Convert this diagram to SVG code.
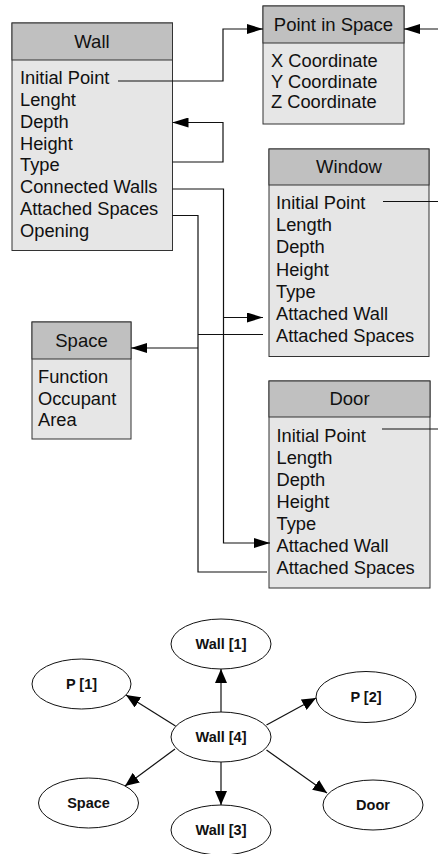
<svg xmlns="http://www.w3.org/2000/svg" width="438" height="854" viewBox="0 0 438 854">
<defs>
<style>
.hdr{fill:#c0c0c0;stroke:#333;stroke-width:1}
.body{fill:#e6e6e6;stroke:#333;stroke-width:1}
.t{font-family:"Liberation Sans",Arial,sans-serif;font-size:18.3px;fill:#111}
.th{font-family:"Liberation Sans",Arial,sans-serif;font-size:18.5px;fill:#111;text-anchor:middle}
.ln{fill:none;stroke:#111;stroke-width:1.2}
.ell{fill:#fff;stroke:#111;stroke-width:1}
.et{font-family:"Liberation Sans",Arial,sans-serif;font-size:14.5px;font-weight:bold;fill:#111;text-anchor:middle}
</style>
<marker id="a" viewBox="0 0 16 10" refX="16" refY="5" markerWidth="16" markerHeight="10" markerUnits="userSpaceOnUse" orient="auto">
<path d="M0,0 L16,5 L0,10 z" fill="#000"/>
</marker>
<marker id="b" viewBox="0 0 14 12" refX="14" refY="6" markerWidth="14" markerHeight="12" markerUnits="userSpaceOnUse" orient="auto">
<path d="M0,0 L14,6 L0,12 z" fill="#000"/>
</marker>
</defs>
<rect width="438" height="854" fill="#fff"/>

<g id="wall">
<rect class="body" x="12" y="23" width="160.5" height="227.5"/>
<rect class="hdr" x="12" y="23" width="160.5" height="37"/>
<text class="th" x="92" y="47.5">Wall</text>
<text class="t" x="20" y="84">Initial Point</text>
<text class="t" x="20" y="106">Lenght</text>
<text class="t" x="20" y="128">Depth</text>
<text class="t" x="20" y="149.5">Height</text>
<text class="t" x="20" y="171">Type</text>
<text class="t" x="20" y="193">Connected Walls</text>
<text class="t" x="20" y="215">Attached Spaces</text>
<text class="t" x="20" y="237">Opening</text>
</g>

<g id="point">
<rect class="body" x="263" y="6" width="141" height="118"/>
<rect class="hdr" x="263" y="6" width="141" height="37"/>
<text class="th" x="333.5" y="30.5">Point in Space</text>
<text class="t" x="271" y="67">X Coordinate</text>
<text class="t" x="271" y="87.5">Y Coordinate</text>
<text class="t" x="271" y="108">Z Coordinate</text>
</g>

<g id="window">
<rect class="body" x="269" y="149" width="160" height="207.5"/>
<rect class="hdr" x="269" y="149" width="160" height="36"/>
<text class="th" x="349" y="172.5">Window</text>
<text class="t" x="276" y="209">Initial Point</text>
<text class="t" x="276" y="231">Length</text>
<text class="t" x="276" y="253">Depth</text>
<text class="t" x="276" y="275.5">Height</text>
<text class="t" x="276" y="297.5">Type</text>
<text class="t" x="276" y="320">Attached Wall</text>
<text class="t" x="276" y="342">Attached Spaces</text>
</g>

<g id="space">
<rect class="body" x="32" y="322" width="99" height="117"/>
<rect class="hdr" x="32" y="322" width="99" height="37"/>
<text class="th" x="81.5" y="346.5">Space</text>
<text class="t" x="38" y="382.5">Function</text>
<text class="t" x="38" y="404.5">Occupant</text>
<text class="t" x="38" y="426">Area</text>
</g>

<g id="door">
<rect class="body" x="269" y="381" width="161" height="207"/>
<rect class="hdr" x="269" y="381" width="161" height="36"/>
<text class="th" x="349.5" y="404.5">Door</text>
<text class="t" x="276.5" y="441.5">Initial Point</text>
<text class="t" x="276.5" y="463.5">Length</text>
<text class="t" x="276.5" y="485.5">Depth</text>
<text class="t" x="276.5" y="507.5">Height</text>
<text class="t" x="276.5" y="530">Type</text>
<text class="t" x="276.5" y="552">Attached Wall</text>
<text class="t" x="276.5" y="574">Attached Spaces</text>
</g>

<g id="connectors">
<path class="ln" d="M118,81 H223 V29 H263" marker-end="url(#a)"/>
<path class="ln" d="M438,29 H404" marker-end="url(#a)"/>
<path class="ln" d="M172.5,162 H223 V122.5 H172.5" marker-end="url(#a)"/>
<path class="ln" d="M172.5,189 H223.5 V543 H270" marker-end="url(#a)"/>
<path class="ln" d="M223.5,317.5 H263" marker-end="url(#a)"/>
<path class="ln" d="M172.5,215.5 H198 V572 H267"/>
<path class="ln" d="M198,334.5 H263"/>
<path class="ln" d="M198,348 H131" marker-end="url(#a)"/>
<path class="ln" d="M383,201.5 H438"/>
<path class="ln" d="M382,429 H438"/>
</g>

<g id="g-wall1"><ellipse class="ell" cx="221" cy="644" rx="50" ry="25"/><text class="et" x="221" y="649">Wall [1]</text></g>
<g id="g-p1"><ellipse class="ell" cx="81.5" cy="684" rx="49.5" ry="25"/><text class="et" x="81.5" y="689">P [1]</text></g>
<g id="g-p2"><ellipse class="ell" cx="366" cy="697" rx="50" ry="25.5"/><text class="et" x="366" y="702">P [2]</text></g>
<g id="g-wall4"><ellipse class="ell" cx="221" cy="737" rx="50" ry="25"/><text class="et" x="221" y="742">Wall [4]</text></g>
<g id="g-space"><ellipse class="ell" cx="88.5" cy="803" rx="50" ry="25"/><text class="et" x="88.5" y="808">Space</text></g>
<g id="g-wall3"><ellipse class="ell" cx="221" cy="830" rx="50" ry="25"/><text class="et" x="221" y="835">Wall [3]</text></g>
<g id="g-door"><ellipse class="ell" cx="373" cy="805" rx="50" ry="25"/><text class="et" x="373" y="810">Door</text></g>

<g id="graph-connectors">
<path class="ln" d="M221,712 V669" marker-end="url(#b)"/>
<path class="ln" d="M175.5,726 L126,695" marker-end="url(#b)"/>
<path class="ln" d="M266.5,725 L316,698" marker-end="url(#b)"/>
<path class="ln" d="M175,749 L125,786" marker-end="url(#b)"/>
<path class="ln" d="M221,762 V805" marker-end="url(#b)"/>
<path class="ln" d="M266.5,750 L327,793" marker-end="url(#b)"/>
</g>
</svg>
